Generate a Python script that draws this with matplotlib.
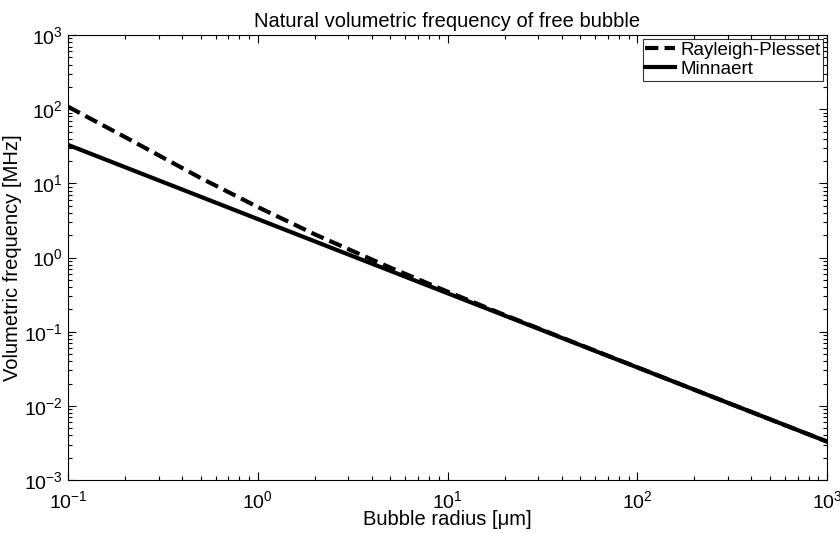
import numpy as np
import matplotlib
matplotlib.use("Agg")
import matplotlib.pyplot as plt
from matplotlib.ticker import LogLocator, NullFormatter

plt.rcParams['font.family'] = ['Liberation Sans', 'DejaVu Sans']
plt.rcParams['mathtext.fontset'] = 'custom'
plt.rcParams['mathtext.rm'] = 'Liberation Sans'

# bubble radius [um]
radius = [0.1, 0.2, 0.5, 1, 2, 5, 10, 20, 50, 100, 200, 500, 1000]
# Minnaert frequency [MHz]
f_minnaert = [33, 16.5, 6.6, 3.3, 1.65, 0.66, 0.33, 0.165, 0.066, 0.033, 0.0165, 0.0066, 0.0033]
# Rayleigh-Plesset frequency [MHz]
f_rp = [108, 42, 11.8, 4.8, 2.05, 0.73, 0.347, 0.168, 0.0665, 0.0331, 0.0165, 0.0066, 0.0033]

fig = plt.figure(figsize=(8.4, 5.33), dpi=100)
ax = fig.add_axes([0.081, 0.0994, 0.9035, 0.8349])

ax.loglog(radius, f_rp, color='black', linewidth=3, linestyle=(0, (3.2, 1.5)),
          label='Rayleigh-Plesset')
ax.loglog(radius, f_minnaert, color='black', linewidth=3, label='Minnaert')

ax.set_xlim(0.1, 1000)
ax.set_ylim(1e-3, 1e3)
ax.xaxis.set_major_locator(LogLocator(base=10, numticks=10))
ax.yaxis.set_major_locator(LogLocator(base=10, numticks=10))
ax.xaxis.set_minor_locator(LogLocator(base=10, subs=np.arange(2, 10), numticks=20))
ax.yaxis.set_minor_locator(LogLocator(base=10, subs=np.arange(2, 10), numticks=20))
ax.xaxis.set_minor_formatter(NullFormatter())
ax.yaxis.set_minor_formatter(NullFormatter())
ax.tick_params(which='both', direction='in', top=True, right=True, labelsize=14,
               width=0.8)
ax.tick_params(axis='x', which='major', pad=7)
ax.tick_params(axis='y', which='major', pad=4)
ax.tick_params(which='major', length=6)
ax.tick_params(which='minor', length=3)
for s in ax.spines.values():
    s.set_linewidth(0.8)

ax.set_xlabel('Bubble radius [\u03bcm]', fontsize=14.5, labelpad=-1)
ax.set_ylabel('Volumetric frequency [MHz]', fontsize=14.5, labelpad=1)
ax.set_title('Natural volumetric frequency of free bubble', fontsize=14.5, pad=6)

leg = ax.legend(loc='upper right', fontsize=13.5, frameon=True, fancybox=False,
                edgecolor='black', handlelength=1.6, handletextpad=0.25,
                borderpad=0.15, labelspacing=0.1, borderaxespad=0.2)
leg.get_frame().set_linewidth(0.8)

plt.savefig('out.png', dpi=100)
